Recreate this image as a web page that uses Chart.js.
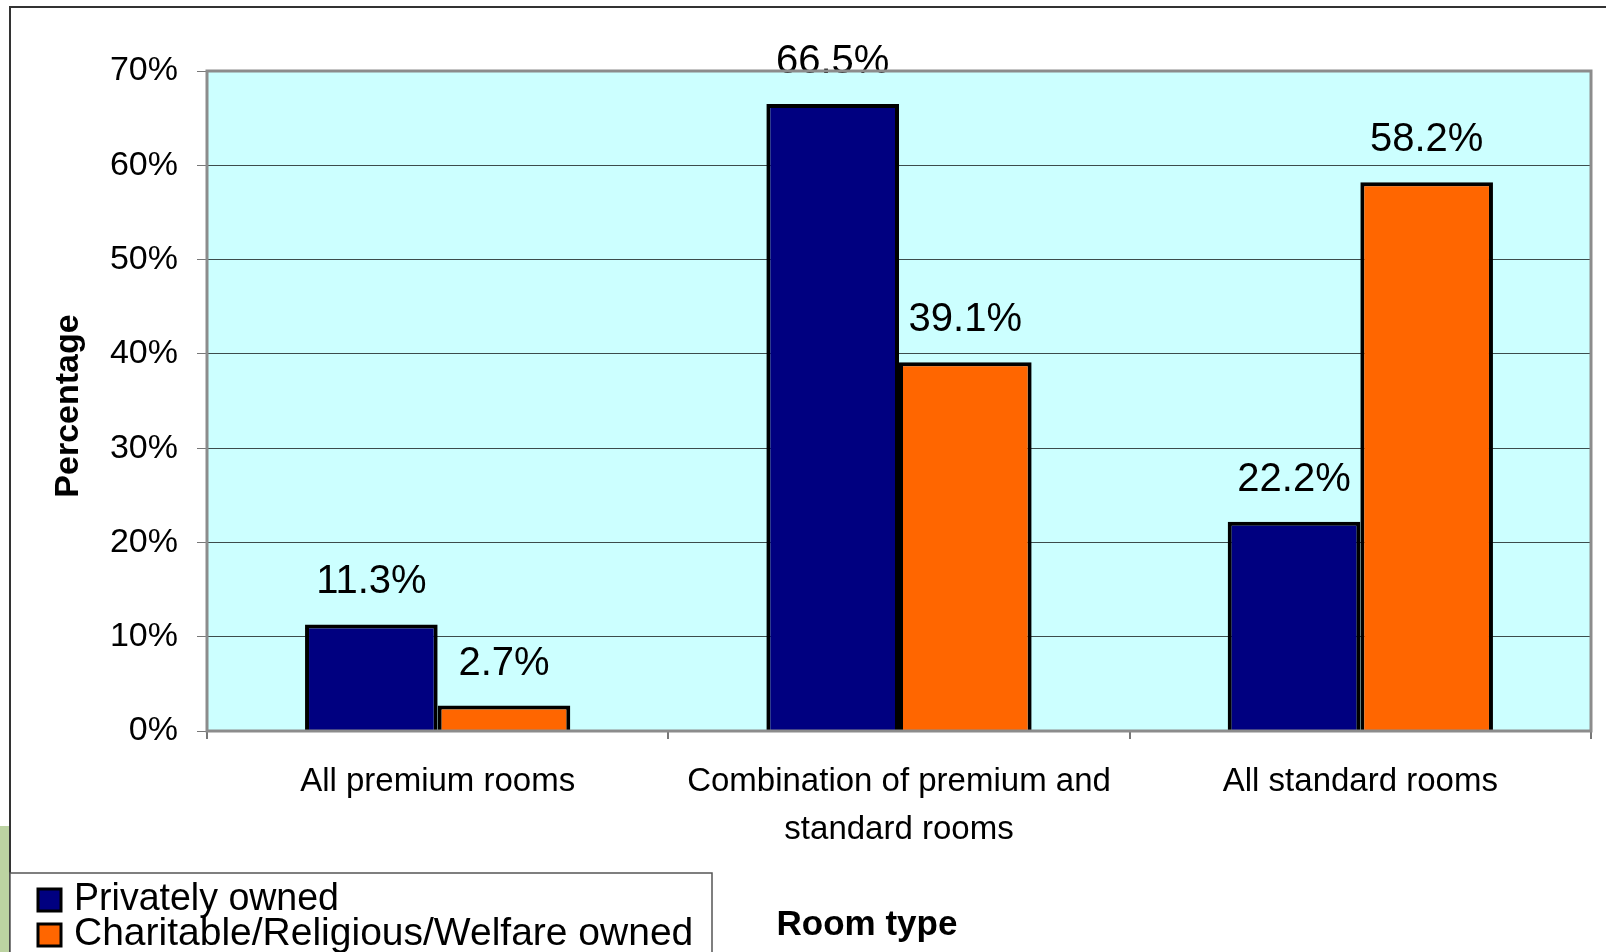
<!DOCTYPE html>
<html>
<head>
<meta charset="utf-8">
<script src="https://cdn.jsdelivr.net/npm/chart.js@4.4.1/dist/chart.umd.min.js"></script>
<style>
  html, body { margin: 0; padding: 0; background: #fff; }
  #wrap { width: 1606px; height: 952px; }
</style>
</head>
<body>
<div id="wrap"><canvas id="roomChart" width="1606" height="952"></canvas></div>
<script>
// data
const categories = ['All premium rooms', ['Combination of premium and', 'standard rooms'], 'All standard rooms'];
const seriesNames = ['Privately owned', 'Charitable/Religious/Welfare owned'];
const privatelyOwned = [11.3, 66.5, 22.2];
const charitableOwned = [2.7, 39.1, 58.2];
const yTicks = [0, 10, 20, 30, 40, 50, 60, 70];
const seriesColors = ['#000080', '#FF6600'];

const FONT = '"Liberation Sans", Arial, Helvetica, sans-serif';

// plot background + border, frame, labels, legend
const decor = {
    id: 'decor',
    beforeDraw(chart) {
        const ctx = chart.ctx, a = chart.chartArea;
        ctx.save();
        ctx.fillStyle = '#fff';
        ctx.fillRect(0, 0, chart.width, chart.height);
        // greenish strip on far left (from the slide behind)
        ctx.fillStyle = '#bcd3a2';
        ctx.fillRect(0, 826, 9, 126);
        ctx.fillStyle = '#CCFFFF';
        ctx.fillRect(a.left, a.top, a.right - a.left, a.bottom - a.top);
        ctx.restore();
    },
    afterDatasetsDraw(chart) {
        const ctx = chart.ctx;
        ctx.save();
        ctx.font = '40px ' + FONT;
        ctx.fillStyle = '#000';
        ctx.textAlign = 'center';
        ctx.textBaseline = 'alphabetic';
        chart.data.datasets.forEach((ds, di) => {
            chart.getDatasetMeta(di).data.forEach((bar, i) => {
                ctx.fillText(ds.data[i].toFixed(1) + '%', bar.x, bar.y - 31);
            });
        });
        ctx.restore();
    },
    afterDraw(chart) {
        const ctx = chart.ctx, a = chart.chartArea;
        ctx.save();
        // plot border
        ctx.strokeStyle = '#8c8c8c';
        ctx.lineWidth = 3;
        ctx.strokeRect(a.left, a.top, a.right - a.left, a.bottom - a.top);
        // outer frame
        ctx.strokeStyle = '#333';
        ctx.lineWidth = 2;
        ctx.beginPath();
        ctx.moveTo(10, 952);
        ctx.lineTo(10, 7);
        ctx.lineTo(1606, 7);
        ctx.stroke();
        // axis titles
        ctx.fillStyle = '#000';
        ctx.textAlign = 'center';
        ctx.textBaseline = 'middle';
        ctx.save();
        ctx.translate(69, 406);
        ctx.rotate(-Math.PI / 2);
        ctx.font = 'bold 34px ' + FONT;
        ctx.fillText('Percentage', 0, 0);
        ctx.restore();
        ctx.textBaseline = 'alphabetic';
        ctx.font = 'bold 35px ' + FONT;
        ctx.fillText('Room type', 867, 935);
        // legend
        ctx.fillStyle = '#fff';
        ctx.fillRect(10, 873, 702, 90);
        ctx.strokeStyle = '#555';
        ctx.lineWidth = 1.5;
        ctx.strokeRect(10, 873, 702, 90);
        ctx.font = '39px ' + FONT;
        ctx.textAlign = 'left';
        seriesNames.forEach((name, i) => {
            const y = 889 + i * 35;
            ctx.fillStyle = seriesColors[i];
            ctx.fillRect(38, y, 23, 22);
            ctx.strokeStyle = '#000';
            ctx.lineWidth = 3;
            ctx.strokeRect(38, y, 23, 22);
            ctx.fillStyle = '#000';
            ctx.fillText(name, 74, 910 + i * 35, i === 0 ? 265 : 625);
        });
        ctx.restore();
    }
};

new Chart(document.getElementById('roomChart'), {
    type: 'bar',
    data: {
        labels: categories,
        datasets: [{
            label: seriesNames[0],
            data: privatelyOwned,
            backgroundColor: seriesColors[0],
            borderColor: '#000',
            borderWidth: 4,
            categoryPercentage: 0.575,
            barPercentage: 1
        }, {
            label: seriesNames[1],
            data: charitableOwned,
            backgroundColor: seriesColors[1],
            borderColor: '#000',
            borderWidth: 4,
            categoryPercentage: 0.575,
            barPercentage: 1
        }]
    },
    options: {
        responsive: false,
        animation: false,
        layout: { padding: { left: 46, top: 71, right: 15, bottom: 0 } },
        plugins: {
            legend: { display: false },
            tooltip: { enabled: false }
        },
        scales: {
            x: {
                grid: { drawOnChartArea: false, tickLength: 8, tickColor: '#777', lineWidth: 2 },
                border: { display: false },
                ticks: {
                    color: '#000',
                    padding: 19,
                    maxRotation: 0,
                    autoSkip: false,
                    font: { family: FONT, size: 33, lineHeight: 1.45 }
                },
                afterFit(scale) { scale.height = 221; }
            },
            y: {
                min: yTicks[0],
                max: yTicks[yTicks.length - 1],
                afterBuildTicks(scale) { scale.ticks = yTicks.map(v => ({ value: v })); },
                grid: { color: '#3c4c4c', lineWidth: 1, tickLength: 10, tickColor: '#777' },
                border: { display: false },
                ticks: {
                    color: '#000',
                    padding: 19,
                    font: { family: FONT, size: 34 },
                    callback: v => v + '%'
                },
                afterFit(scale) { scale.width = 161; }
            }
        }
    },
    plugins: [decor]
});
</script>
</body>
</html>
